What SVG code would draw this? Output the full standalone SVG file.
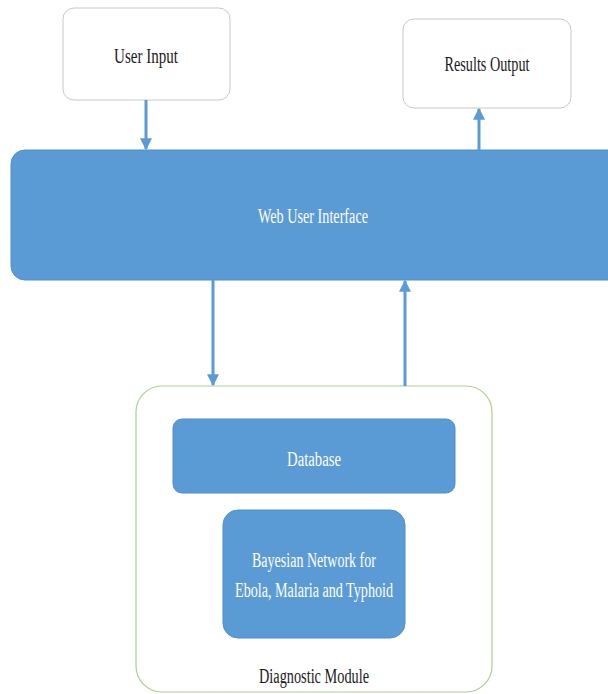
<svg xmlns="http://www.w3.org/2000/svg" width="608" height="694" viewBox="0 0 608 694">
  <style>
    .plain { fill: #ffffff; stroke: #c8c8c8; stroke-width: 1; }
    .blue { fill: #5b9bd5; stroke: #4f8fc9; stroke-width: 1; }
    .module { fill: #ffffff; stroke: #a9d18e; stroke-width: 1.2; }
    .lbl { font-family: "Liberation Serif", "Times New Roman", serif; font-size: 20.5px; text-anchor: middle; }
    .dark { fill: #1a1a1a; }
    .light { fill: #ffffff; }
    .link { stroke: #5b9bd5; stroke-width: 3; fill: none; }
  </style>
  <defs>
    <marker id="head" viewBox="0 0 10 10" refX="9" refY="5" markerWidth="4" markerHeight="4" orient="auto" markerUnits="strokeWidth">
      <path d="M0,0 L10,5 L0,10 z" fill="#5b9bd5"/>
    </marker>
  </defs>

  <rect width="608" height="694" fill="#ffffff"/>

  <g id="user-input">
    <rect class="plain" x="63" y="8" width="167" height="92" rx="11"/>
    <text class="lbl dark" x="146" y="63" textLength="64" lengthAdjust="spacingAndGlyphs">User Input</text>
  </g>

  <g id="results-output">
    <rect class="plain" x="403" y="19" width="168" height="89" rx="11"/>
    <text class="lbl dark" x="487" y="71" textLength="85" lengthAdjust="spacingAndGlyphs">Results Output</text>
  </g>

  <g id="web-ui">
    <rect class="blue" x="11" y="150" width="612" height="130" rx="14"/>
    <text class="lbl light" x="313" y="223" textLength="110" lengthAdjust="spacingAndGlyphs">Web User Interface</text>
  </g>

  <g id="diagnostic-module">
    <rect class="module" x="136" y="386" width="356" height="306" rx="26"/>
    <text class="lbl dark" x="314" y="683" textLength="110" lengthAdjust="spacingAndGlyphs">Diagnostic Module</text>
  </g>

  <g id="database">
    <rect class="blue" x="173" y="419" width="282" height="74" rx="9"/>
    <text class="lbl light" x="314" y="466" textLength="54" lengthAdjust="spacingAndGlyphs">Database</text>
  </g>

  <g id="bayesian-network">
    <rect class="blue" x="223" y="510" width="182" height="128" rx="15"/>
    <text class="lbl light" x="314" y="567" textLength="124" lengthAdjust="spacingAndGlyphs">Bayesian Network for</text>
    <text class="lbl light" x="314" y="597" textLength="158" lengthAdjust="spacingAndGlyphs">Ebola, Malaria and Typhoid</text>
  </g>

  <g id="connectors">
    <line class="link" x1="146" y1="100" x2="146" y2="149" marker-end="url(#head)"/>
    <line class="link" x1="479" y1="150" x2="479" y2="109" marker-end="url(#head)"/>
    <line class="link" x1="213" y1="280" x2="213" y2="385" marker-end="url(#head)"/>
    <line class="link" x1="405" y1="386" x2="405" y2="281" marker-end="url(#head)"/>
  </g>
</svg>
